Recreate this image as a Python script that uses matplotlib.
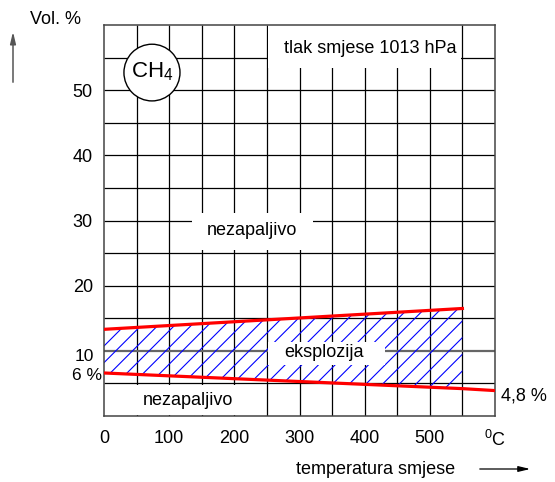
import matplotlib
matplotlib.use("Agg")
import matplotlib.pyplot as plt
from matplotlib.patches import Rectangle, Ellipse

plt.rcParams['font.family'] = ['Liberation Sans', 'DejaVu Sans']
plt.rcParams['mathtext.fontset'] = 'custom'
plt.rcParams['mathtext.rm'] = 'Liberation Sans'
plt.rcParams['mathtext.it'] = 'Liberation Sans'
plt.rcParams['hatch.linewidth'] = 0.8

# explosion limits of methane
upper_temp = [0, 550]
upper_vol = [13.3, 16.5]
lower_temp = [0, 550, 600]
lower_vol = [6.6, 4.2, 3.9]

x_ticks = [0, 100, 200, 300, 400, 500, 600]
x_labels = ['0', '100', '200', '300', '400', '500', '$^{0}$C']
y_ticks = [20, 30, 40, 50]
x_grid = [50, 100, 150, 200, 250, 300, 350, 400, 450, 500, 550]
y_grid = [5, 15, 20, 25, 30, 35, 40, 45, 50, 55]

fig = plt.figure(figsize=(5.55, 4.82), dpi=100)
ax = fig.add_axes([104 / 555, 66 / 482, 391 / 555, 391 / 482])
ax.set_xlim(0, 600)
ax.set_ylim(0, 60)

# grid
ax.vlines(x_grid, 0, 60, colors='black', lw=0.9, zorder=1)
ax.hlines(y_grid, 0, 600, colors='black', lw=0.9, zorder=1)
ax.hlines([10], 0, 600, colors='#666666', lw=1.6, zorder=1)

# explosive area
ax.fill_between(upper_temp, lower_vol[:2], upper_vol, facecolor='none',
                edgecolor='blue', hatch='//', linewidth=0, zorder=1.5)

# white boxes behind the labels
for (x0, y0, w, h) in [(251.5, 53.4, 297, 6.6), (135, 25.4, 185, 5.7),
                       (251.5, 7.8, 180, 3.5), (0.5, 0.2, 248.5, 4.6)]:
    ax.add_patch(Rectangle((x0, y0), w, h, facecolor='white',
                           edgecolor='none', zorder=2))

ax.plot(upper_temp, upper_vol, color='red', lw=2.3, zorder=3)
ax.plot(lower_temp, lower_vol, color='red', lw=2.3, zorder=3)

ax.add_patch(Ellipse((73.6, 52.7), 86, 8.7, facecolor='white',
                     edgecolor='black', lw=1, zorder=3))
ax.text(73.6, 52.8, 'CH$_4$', fontsize=16, ha='center', va='center', zorder=4)

ax.text(408, 56.4, 'tlak smjese 1013 hPa', fontsize=13, ha='center', va='center', zorder=4)
ax.text(227, 28.4, 'nezapaljivo', fontsize=13, ha='center', va='center', zorder=4)
ax.text(337, 9.7, 'eksplozija', fontsize=13, ha='center', va='center', zorder=4)
ax.text(129, 2.4, 'nezapaljivo', fontsize=13, ha='center', va='center', zorder=4)

ax.text(-16, 9.1, '10', fontsize=12.5, ha='right', va='center', clip_on=False)
ax.text(-3, 6.2, '6 %', fontsize=12.5, ha='right', va='center', clip_on=False)
ax.text(609, 3.1, '4,8 %', fontsize=13, ha='left', va='center', clip_on=False)

ax.set_xticks(x_ticks)
ax.set_xticklabels(x_labels, fontsize=13)
ax.set_yticks(y_ticks)
ax.set_yticklabels([str(v) for v in y_ticks], fontsize=13)
ax.tick_params(axis='x', length=0, pad=10)
ax.tick_params(axis='y', length=0, pad=8)
for s in ax.spines.values():
    s.set_color('#444444')
    s.set_linewidth(1.1)

# axis titles with arrows
fig.text(55.5 / 555, 1 - 20 / 482, 'Vol. %', fontsize=13, ha='center', va='center')
fig.add_artist(matplotlib.patches.FancyArrowPatch(
    (13 / 555, 1 - 85 / 482), (13 / 555, 1 - 29 / 482), transform=fig.transFigure,
    arrowstyle='-|>,head_length=0.5,head_width=0.12', mutation_scale=14,
    color='#555555', lw=1.1))
fig.text(376 / 555, 1 - 469 / 482, 'temperatura smjese', fontsize=13,
         ha='center', va='center')
fig.add_artist(matplotlib.patches.FancyArrowPatch(
    (477 / 555, 1 - 469 / 482), (533 / 555, 1 - 469 / 482), transform=fig.transFigure,
    arrowstyle='-|>,head_length=0.5,head_width=0.12', mutation_scale=14,
    color='black', lw=0.9))

fig.savefig('out.png', dpi=100)
